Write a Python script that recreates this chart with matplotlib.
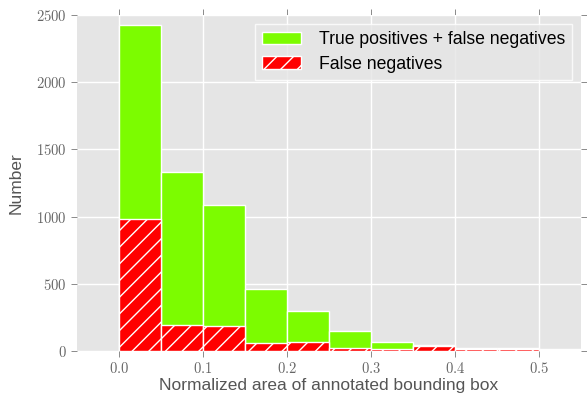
import numpy as np
import matplotlib
matplotlib.use('Agg')
import matplotlib.pyplot as plt
from matplotlib.ticker import FuncFormatter

plt.style.use('ggplot')
plt.rcParams['mathtext.fontset'] = 'cm'
plt.rcParams['hatch.linewidth'] = 1.0

# histogram bins (normalized area), width 0.05
bin_edges = [0.0, 0.05, 0.10, 0.15, 0.20, 0.25, 0.30, 0.35, 0.40, 0.45, 0.50, 0.55]
all_counts = [2426, 1332, 1090, 461, 300, 146, 65, 45, 22, 22, 13]   # TP + FN
fn_counts = [982, 191, 185, 62, 65, 22, 14, 34, 13, 13, 8]          # FN only

left = np.array(bin_edges[:-1])
width = np.diff(bin_edges)

fig = plt.figure(figsize=(5.87, 4.03), dpi=100)
ax = fig.add_axes([77/587, 1-351/403, (581-77)/587, (351-15)/403])
ax.set_facecolor('#E5E5E5')

ax.bar(left, all_counts, width=width, align='edge', color='#7CFC00',
       edgecolor='white', linewidth=1.0, label='True positives + false negatives')
ax.bar(left, fn_counts, width=width, align='edge', color='#FF0000',
       edgecolor='white', linewidth=1.0, hatch='//', label='False negatives')

ax.set_xlim(-0.05, 0.55)
ax.set_ylim(0, 2500)
ax.set_xticks([0.0, 0.1, 0.2, 0.3, 0.4, 0.5])
ax.set_yticks([0, 500, 1000, 1500, 2000, 2500])
ax.xaxis.set_major_formatter(FuncFormatter(lambda v, p: r'$%.1f$' % v))
ax.yaxis.set_major_formatter(FuncFormatter(lambda v, p: r'$%d$' % v))
ax.tick_params(direction='out', length=4, width=0.6, colors='#777777',
               labelsize=10.5, top=True, right=True, labeltop=False, labelright=False)
for t in ax.get_xticklabels() + ax.get_yticklabels():
    t.set_color('#666666')

ax.grid(True, color='white', linewidth=1.0)
ax.set_axisbelow(True)
for s in ax.spines.values():
    s.set_visible(False)

ax.set_xlabel('Normalized area of annotated bounding box', fontsize=12.5,
              color='#555555', family='Liberation Sans', labelpad=1)
ax.set_ylabel('Number', fontsize=12.5, color='#555555', family='Liberation Sans', labelpad=9)

leg = ax.legend(loc='upper right', prop={'family': 'Liberation Sans', 'size': 12.7},
                frameon=True, fancybox=False, borderaxespad=0.5, labelspacing=0.45,
                handlelength=2.2, handletextpad=1.0)
leg.get_frame().set_facecolor('#E5E5E5')
leg.get_frame().set_edgecolor('white')
leg.get_frame().set_linewidth(1.0)

fig.savefig('out.png', dpi=100)
